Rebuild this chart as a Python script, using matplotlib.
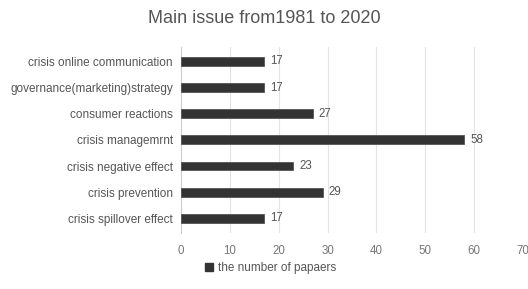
import matplotlib
matplotlib.use("Agg")
import matplotlib.pyplot as plt
from matplotlib.patches import Patch

plt.rcParams['font.family'] = ['Liberation Sans', 'DejaVu Sans']

categories = ["crisis online communication", "governance(marketing)strategy",
              "consumer reactions", "crisis managemrnt", "crisis negative effect",
              "crisis prevention", "crisis spillover effect"]
values = [17, 17, 27, 58, 23, 29, 17]
xticks = [0, 10, 20, 30, 40, 50, 60, 70]
title = "Main issue from1981 to 2020"
legend_label = "the number of papaers"

fig = plt.figure(figsize=(5.28, 2.89), dpi=100)
ax = fig.add_axes([0.343, 0.195, 0.647, 0.642])
y = list(range(len(categories)))[::-1]
ax.barh(y, values, height=0.34, color="#333333", edgecolor="#555555", linewidth=0.6, zorder=3)
for yi, v in zip(y, values):
    ax.text(v + 1.2, yi, str(v), va="center", ha="left", fontsize=8.3, color="#555555")
ax.set_yticks(y)
ax.set_yticklabels(categories, fontsize=8.5, color="#555555")
ax.set_xticks(xticks)
ax.set_xticklabels([str(t) for t in xticks], fontsize=8.3, color="#777777")
ax.set_xlim(0, 70)
ax.set_ylim(-0.55, 6.55)
ax.grid(axis="x", color="#e3e3e3", linewidth=0.8, zorder=0)
for s in ["top", "right", "bottom"]:
    ax.spines[s].set_visible(False)
ax.spines["left"].set_color("#cccccc")
ax.spines["left"].set_linewidth(0.8)
ax.tick_params(axis="both", length=0, pad=6)
ax.tick_params(axis="x", pad=9)
fig.text(0.5, 0.935, title, ha="center", va="center", fontsize=13, color="#555555")
fig.legend(handles=[Patch(facecolor="#333333", edgecolor="#333333")], labels=[legend_label],
           loc="center left", bbox_to_anchor=(0.368, 0.072), frameon=False, fontsize=8.5,
           handlelength=0.7, handleheight=0.7, handletextpad=0.4, labelcolor="#555555")
fig.savefig("out.png", dpi=100)
